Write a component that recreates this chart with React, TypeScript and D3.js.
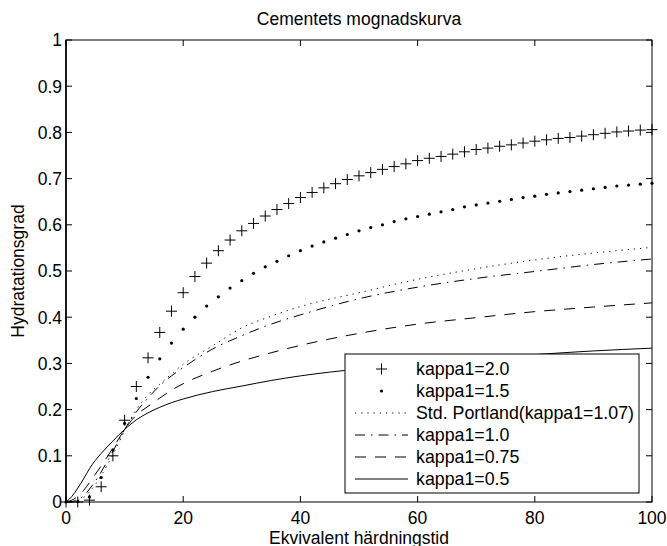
import React from "react";
import * as d3 from "d3";

// Equivalent curing time (marker series sampled every 2 units)
const markerTimes = d3.range(0, 101, 2);

// kappa1 = 2.0 (plus markers)
const kappa20 = [
  0, 0.0, 0.004, 0.033, 0.1, 0.177, 0.25, 0.312, 0.367, 0.413, 0.453, 0.488, 0.517,
  0.544, 0.567, 0.587, 0.603, 0.619, 0.633, 0.646, 0.659, 0.67, 0.68, 0.689, 0.698,
  0.706, 0.713, 0.72, 0.726, 0.732, 0.739, 0.744, 0.748, 0.753, 0.758, 0.763, 0.766,
  0.77, 0.773, 0.777, 0.781, 0.784, 0.787, 0.789, 0.792, 0.795, 0.798, 0.801, 0.803,
  0.805, 0.806,
];

// kappa1 = 1.5 (dot markers)
const kappa15 = [
  0, 0.001, 0.011, 0.053, 0.113, 0.17, 0.224, 0.27, 0.31, 0.344, 0.374, 0.4, 0.424,
  0.444, 0.463, 0.479, 0.495, 0.509, 0.521, 0.533, 0.544, 0.554, 0.563, 0.571, 0.579,
  0.587, 0.594, 0.6, 0.607, 0.613, 0.618, 0.623, 0.628, 0.633, 0.639, 0.643, 0.647,
  0.651, 0.655, 0.659, 0.662, 0.666, 0.669, 0.672, 0.675, 0.678, 0.681, 0.684, 0.686,
  0.688, 0.69,
];

// Time grid for the line series
const lineTimes = [0, 1, 2, 3, 4, 5, 6, 7, 8, 9, 10, 12, 14, 16, 18, 20, 25, 30, 35, 40, 50, 60, 70, 80, 90, 100];

const stdPortland = [0, 0.0, 0.003, 0.01, 0.022, 0.038, 0.057, 0.079, 0.102, 0.128, 0.155, 0.2, 0.232, 0.255, 0.277, 0.298, 0.338, 0.377, 0.402, 0.423, 0.453, 0.482, 0.505, 0.524, 0.539, 0.551];
const kappa10 = [0, 0.001, 0.005, 0.013, 0.028, 0.045, 0.065, 0.087, 0.11, 0.133, 0.157, 0.195, 0.225, 0.252, 0.273, 0.291, 0.331, 0.36, 0.385, 0.405, 0.44, 0.465, 0.484, 0.499, 0.514, 0.526];
const kappa075 = [0, 0.004, 0.012, 0.025, 0.042, 0.06, 0.078, 0.097, 0.117, 0.137, 0.157, 0.188, 0.207, 0.225, 0.242, 0.256, 0.283, 0.305, 0.323, 0.339, 0.365, 0.385, 0.399, 0.412, 0.422, 0.431];
const kappa05 = [0, 0.012, 0.03, 0.05, 0.072, 0.09, 0.105, 0.119, 0.132, 0.145, 0.157, 0.178, 0.193, 0.205, 0.215, 0.223, 0.239, 0.251, 0.263, 0.273, 0.288, 0.3, 0.31, 0.319, 0.327, 0.333];

const xTicks = [0, 20, 40, 60, 80, 100];
const yTicks = [0, 0.1, 0.2, 0.3, 0.4, 0.5, 0.6, 0.7, 0.8, 0.9, 1];

const legendLabels = [
  "kappa1=2.0",
  "kappa1=1.5",
  "Std. Portland(kappa1=1.07)",
  "kappa1=1.0",
  "kappa1=0.75",
  "kappa1=0.5",
];

const titleText = "Cementets mognadskurva";
const xLabel = "Ekvivalent härdningstid";
const yLabel = "Hydratationsgrad";

const W = 667;
const H = 546;
const plot = { left: 66, right: 652, top: 40, bottom: 502 };
const FONT = "'Liberation Sans', Arial, Helvetica, sans-serif";

const DOTTED = "1.2,5";
const DASHDOT = "10,6,1.5,6";
const DASHED = "11,9";

export default function App() {
  const x = d3.scaleLinear().domain([0, 100]).range([plot.left, plot.right]);
  const y = d3.scaleLinear().domain([0, 1]).range([plot.bottom, plot.top]);

  const line = d3
    .line<number>()
    .x((_, i) => x(lineTimes[i]))
    .y((d) => y(d))
    .curve(d3.curveMonotoneX);

  const lineSeries = [
    { values: stdPortland, dash: DOTTED },
    { values: kappa10, dash: DASHDOT },
    { values: kappa075, dash: DASHED },
    { values: kappa05, dash: "none" },
  ];

  const tickLen = 6;
  const plus = (cx: number, cy: number, s: number) =>
    `M${cx - s},${cy}H${cx + s}M${cx},${cy - s}V${cy + s}`;

  // Legend layout
  const lg = { x: 345, y: 354, w: 294, h: 139, row0: 369, step: 22 };
  const sampleX1 = 355;
  const sampleX2 = 408;
  const textX = 416;

  return (
    <svg
      width={W}
      height={H}
      style={{ position: "absolute", left: 0, top: 0, background: "#fff" }}
      fontFamily={FONT}
    >
      <rect x={0} y={0} width={W} height={H} fill="#fff" />

      {/* data lines */}
      <g fill="none" stroke="#000" strokeWidth={1}>
        {lineSeries.map((s, i) => (
          <path key={i} d={line(s.values) || ""} strokeDasharray={s.dash} />
        ))}
      </g>

      {/* kappa1 = 1.5 dots */}
      <g fill="#000">
        {kappa15.map((v, i) => (
          <circle key={i} cx={x(markerTimes[i])} cy={y(v)} r={1.6} />
        ))}
      </g>

      {/* kappa1 = 2.0 pluses */}
      <g stroke="#000" strokeWidth={1} fill="none">
        {kappa20.map((v, i) => (
          <path key={i} d={plus(x(markerTimes[i]), y(v), 5.5)} />
        ))}
      </g>

      {/* axes box */}
      <rect
        x={plot.left}
        y={plot.top}
        width={plot.right - plot.left}
        height={plot.bottom - plot.top}
        fill="none"
        stroke="#000"
        strokeWidth={1}
      />
      <line x1={plot.left} x2={plot.left} y1={plot.top} y2={plot.bottom} stroke="#000" strokeWidth={1.6} />

      {/* ticks */}
      <g stroke="#000" strokeWidth={1}>
        {xTicks.map((t) => (
          <g key={"xt" + t}>
            <line x1={x(t)} x2={x(t)} y1={plot.bottom} y2={plot.bottom - tickLen} />
            <line x1={x(t)} x2={x(t)} y1={plot.top} y2={plot.top + tickLen} />
          </g>
        ))}
        {yTicks.map((t) => (
          <g key={"yt" + t}>
            <line x1={plot.left} x2={plot.left + tickLen} y1={y(t)} y2={y(t)} />
            <line x1={plot.right} x2={plot.right - tickLen} y1={y(t)} y2={y(t)} />
          </g>
        ))}
      </g>

      {/* tick labels */}
      <g fontSize={17.5} fill="#000">
        {xTicks.map((t) => (
          <text key={"xl" + t} x={x(t)} y={523.5} textAnchor="middle">
            {String(t)}
          </text>
        ))}
        {yTicks.map((t) => (
          <text key={"yl" + t} x={62} y={y(t)} dy="0.36em" textAnchor="end">
            {String(t)}
          </text>
        ))}
      </g>

      {/* title and axis labels */}
      <text x={(plot.left + plot.right) / 2} y={25} textAnchor="middle" fontSize={17.5} fill="#000">
        {titleText}
      </text>
      <text x={(plot.left + plot.right) / 2} y={543.5} textAnchor="middle" fontSize={17.5} fill="#000">
        {xLabel}
      </text>
      <text
        transform={`translate(24,${(plot.top + plot.bottom) / 2}) rotate(-90)`}
        textAnchor="middle"
        fontSize={17.5}
        fill="#000"
      >
        {yLabel}
      </text>

      {/* legend */}
      <rect x={lg.x} y={lg.y} width={lg.w} height={lg.h} fill="#fff" stroke="#000" strokeWidth={1} />
      {legendLabels.map((label, i) => {
        const cy = lg.row0 + i * lg.step;
        const mid = (sampleX1 + sampleX2) / 2;
        let sample: React.ReactNode = null;
        if (i === 0) {
          sample = <path d={plus(mid, cy, 5.5)} stroke="#000" strokeWidth={1} fill="none" />;
        } else if (i === 1) {
          sample = <circle cx={mid} cy={cy} r={1.6} fill="#000" />;
        } else {
          const dash = lineSeries[i - 2].dash;
          sample = (
            <line x1={sampleX1} x2={sampleX2} y1={cy} y2={cy} stroke="#000" strokeWidth={1} strokeDasharray={dash} />
          );
        }
        return (
          <g key={label}>
            {sample}
            <text x={textX} y={cy} dy="0.36em" fontSize={17.8} fill="#000">
              {label}
            </text>
          </g>
        );
      })}
    </svg>
  );
}
